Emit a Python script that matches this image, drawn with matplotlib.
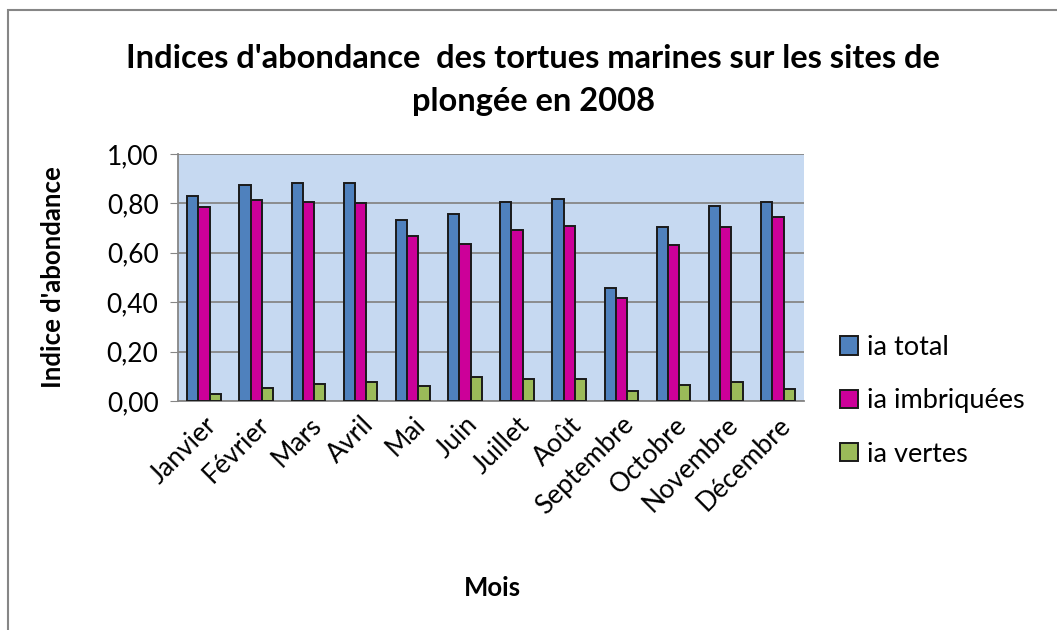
import numpy as np
import matplotlib.pyplot as plt
from matplotlib.patches import Rectangle

plt.rcParams["font.family"] = ["Lato", "DejaVu Sans"]

# Data
mois = ["Janvier", "Février", "Mars", "Avril", "Mai", "Juin", "Juillet",
        "Août", "Septembre", "Octobre", "Novembre", "Décembre"]
ia_total = [0.83, 0.876, 0.881, 0.881, 0.734, 0.757, 0.805, 0.818, 0.457, 0.704, 0.789, 0.805]
ia_imbriquees = [0.784, 0.812, 0.807, 0.801, 0.670, 0.637, 0.692, 0.709, 0.415, 0.631, 0.704, 0.745]
ia_vertes = [0.030, 0.053, 0.070, 0.076, 0.060, 0.097, 0.088, 0.088, 0.042, 0.065, 0.076, 0.047]

series = [("ia total", ia_total, "#4F81BD"),
          ("ia imbriquées", ia_imbriquees, "#CC0099"),
          ("ia vertes", ia_vertes, "#9BBB59")]

W, H = 1057, 630
fig = plt.figure(figsize=(W / 100, H / 100), dpi=100)

# outer chart frame
fig.patches.append(Rectangle((8 / W, -0.05), 1.1, 1 - 10 / H + 0.05,
                             transform=fig.transFigure, fill=False,
                             edgecolor="#868686", linewidth=1.5))

ax = fig.add_axes([178 / W, 1 - 401 / H, (804 - 178) / W, (401 - 154) / H])
ax.set_facecolor("#C6D9F1")

x = np.arange(len(mois))
w = 0.215
for i, (name, vals, col) in enumerate(series):
    ax.bar(x + (i - 1) * w, vals, w, color=col, edgecolor="#1a1a1a",
           linewidth=1.4, label=name, zorder=3)

ax.set_xlim(-0.5, len(mois) - 0.5)
ax.set_ylim(0, 1.0)
ax.set_yticks(np.arange(0, 1.01, 0.2))
ax.set_yticklabels([f"{v:.2f}".replace(".", ",") for v in np.arange(0, 1.01, 0.2)],
                   fontsize=19)
ax.yaxis.grid(True, color="#868686", linewidth=1.3, zorder=0)
ax.tick_params(axis="y", length=6, color="#868686", pad=8)
ax.tick_params(axis="x", length=0, pad=8)
ax.set_xticks(x)
ax.set_xticklabels(mois, rotation=45, ha="right", rotation_mode="anchor", fontsize=19)

for s in ["top", "right"]:
    ax.spines[s].set_visible(False)
for s in ["left", "bottom"]:
    ax.spines[s].set_color("#868686")
    ax.spines[s].set_linewidth(1.3)

ax.set_ylabel("Indice d'abondance", fontsize=18.5, fontweight="bold")
ax.yaxis.set_label_coords((65 - 178) / (804 - 178), 0.5)
fig.text(492 / W, 1 - 588 / H, "Mois", fontsize=18.5, fontweight="bold",
         ha="center", va="center")

fig.text(533 / W, 1 - 58 / H, "Indices d'abondance  des tortues marines sur les sites de",
         fontsize=23.5, fontweight="bold", ha="center", va="center")
fig.text(533 / W, 1 - 101 / H, "plongée en 2008",
         fontsize=23.5, fontweight="bold", ha="center", va="center")

ax.legend(loc="upper left", bbox_to_anchor=(840 / W, 1 - 335 / H),
          bbox_transform=fig.transFigure, frameon=False, fontsize=19.5,
          handlelength=0.65, handleheight=0.65, handletextpad=0.35,
          labelspacing=1.05, borderaxespad=0, borderpad=0)

fig.savefig("out.png", dpi=100)
